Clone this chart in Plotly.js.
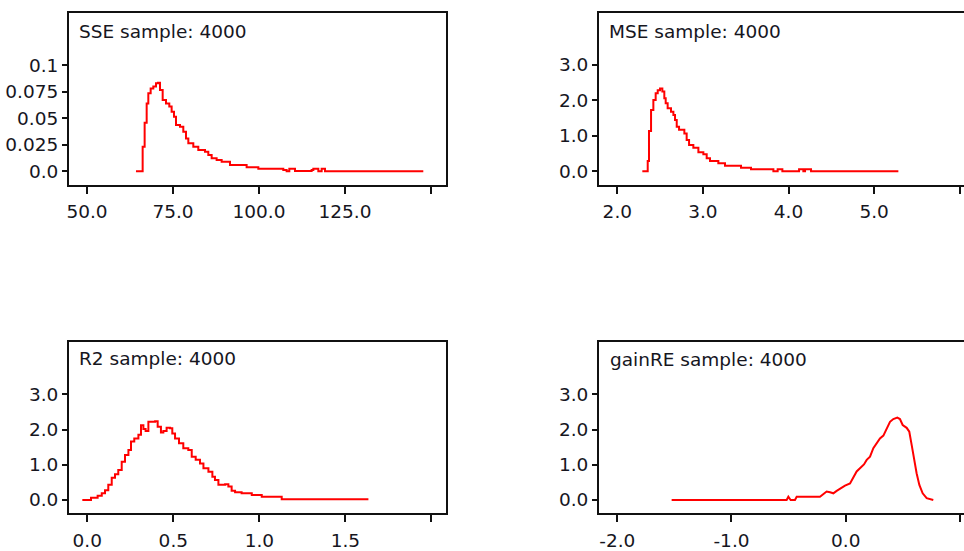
<!DOCTYPE html>
<html>
<head>
<meta charset="utf-8">
<script src="https://cdn.plot.ly/plotly-3.0.1.min.js"></script>
<style>
html, body { margin: 0; padding: 0; overflow: hidden; background: #fff; width: 964px; height: 551px; }
#chart { width: 990px; height: 551px; }
</style>
</head>
<body>
<div id="chart"></div>
<script>
// ---- Data ----
const panelTitles = ['SSE sample: 4000', 'MSE sample: 4000', 'R2 sample: 4000', 'gainRE sample: 4000'];

const sseX = [64.24, 66.18, 66.76, 67.35, 67.83, 68.51, 69.28, 70.06, 70.64, 71.22, 72.0, 72.97, 73.93, 74.61, 75.29, 75.87, 77.03, 78.0, 78.78, 79.46, 80.91, 82.36, 84.3, 85.27, 86.24, 87.69, 89.15, 91.57, 96.41, 99.81, 107.07, 108.04, 108.82, 110.47, 115.31, 115.8, 117.25, 118.22, 119.19, 147.77];
const sseY = [0, 0.0232, 0.0459, 0.064, 0.0736, 0.078, 0.080, 0.083, 0.0836, 0.0767, 0.0673, 0.064, 0.061, 0.0562, 0.0515, 0.0437, 0.042, 0.0374, 0.031, 0.0264, 0.0232, 0.0201, 0.0185, 0.0154, 0.0123, 0.0107, 0.009, 0.006, 0.0038, 0.0025, 0.0012, 0, 0.0025, 0.0003, 0.0012, 0.0025, 0, 0.0025, 0, 0];

const mseX = [2.292, 2.355, 2.370, 2.394, 2.421, 2.448, 2.472, 2.499, 2.526, 2.549, 2.565, 2.588, 2.627, 2.655, 2.674, 2.694, 2.721, 2.783, 2.810, 2.838, 2.888, 2.947, 3.005, 3.044, 3.083, 3.180, 3.258, 3.445, 3.562, 3.823, 3.873, 3.928, 4.123, 4.173, 4.193, 4.263, 5.283];
const mseY = [0, 0.291, 1.138, 1.73, 2.01, 2.20, 2.29, 2.34, 2.25, 2.06, 1.92, 1.78, 1.68, 1.59, 1.45, 1.26, 1.17, 1.07, 0.884, 0.743, 0.667, 0.536, 0.48, 0.367, 0.291, 0.226, 0.158, 0.102, 0.056, 0, 0.056, 0, 0.056, 0, 0.056, 0, 0];

const r2X = [-0.029, 0.0215, 0.060, 0.084, 0.103, 0.122, 0.142, 0.161, 0.180, 0.200, 0.219, 0.239, 0.254, 0.273, 0.297, 0.312, 0.326, 0.339, 0.355, 0.394, 0.409, 0.428, 0.442, 0.461, 0.481, 0.494, 0.510, 0.533, 0.558, 0.587, 0.607, 0.630, 0.655, 0.675, 0.704, 0.727, 0.742, 0.762, 0.801, 0.820, 0.839, 0.859, 0.897, 0.956, 1.014, 1.130, 1.634];
const r2Y = [0, 0.066, 0.12, 0.19, 0.28, 0.43, 0.63, 0.73, 0.85, 1.09, 1.28, 1.42, 1.66, 1.75, 1.85, 2.12, 2.02, 1.96, 2.22, 2.24, 2.08, 1.92, 1.96, 2.05, 2.04, 1.89, 1.75, 1.61, 1.47, 1.42, 1.23, 1.14, 1.04, 0.90, 0.80, 0.66, 0.57, 0.43, 0.45, 0.38, 0.26, 0.22, 0.19, 0.14, 0.094, 0.02, 0.02];

const gainX = [-1.524, -0.517, -0.502, -0.482, -0.444, -0.429, -0.225, -0.196, -0.167, -0.137, -0.108, -0.079, -0.050, -0.006, 0.038, 0.067, 0.096, 0.125, 0.160, 0.184, 0.213, 0.242, 0.271, 0.300, 0.330, 0.359, 0.388, 0.417, 0.452, 0.475, 0.499, 0.534, 0.557, 0.578, 0.598, 0.621, 0.645, 0.674, 0.709, 0.767];
const gainY = [0, 0, 0.094, 0, 0, 0.094, 0.094, 0.16, 0.24, 0.22, 0.19, 0.26, 0.33, 0.41, 0.47, 0.62, 0.81, 0.90, 1.01, 1.14, 1.23, 1.47, 1.61, 1.75, 1.83, 2.03, 2.22, 2.30, 2.34, 2.30, 2.13, 2.05, 1.94, 1.56, 1.18, 0.76, 0.43, 0.19, 0.05, 0];

// Tick values / labels
const sseXTicks = [50, 75, 100, 125, 150];
const sseXText = ['50.0', '75.0', '100.0', '125.0', ''];
const sseYTicks = [0, 0.025, 0.05, 0.075, 0.1];
const sseYText = ['0.0', '0.025', '0.05', '0.075', '0.1'];
const mseXTicks = [2, 3, 4, 5, 6];
const mseXText = ['2.0', '3.0', '4.0', '5.0', ''];
const r2XTicks = [0, 0.5, 1, 1.5, 2];
const r2XText = ['0.0', '0.5', '1.0', '1.5', ''];
const gainXTicks = [-2, -1, 0, 1];
const gainXText = ['-2.0', '-1.0', '0.0', ''];
const densYTicks = [0, 1, 2, 3];
const densYText = ['0.0', '1.0', '2.0', '3.0'];

// ---- Layout helpers ----
const W = 990, H = 551;
const FONT = 'DejaVu Sans, Verdana, sans-serif';
const TXT = '#16161e';
function px(a, b) { return [a / W, b / W]; }
function py(top, bottom) { return [(H - bottom) / H, (H - top) / H]; }

function xAxis(domain, range, tv, tt, anchor) {
  return {
    domain: domain, range: range, tickvals: tv, ticktext: tt, anchor: anchor,
    showline: true, mirror: true, linecolor: '#111', linewidth: 2,
    ticks: 'outside', ticklen: 7, tickwidth: 2, tickcolor: '#111',
    ticklabelstandoff: 2,
    showgrid: false, zeroline: false, fixedrange: true,
    tickfont: { family: FONT, size: 18.5, color: TXT }
  };
}
function yAxis(domain, range, tv, tt, anchor) {
  return {
    domain: domain, range: range, tickvals: tv, ticktext: tt, anchor: anchor,
    showline: true, mirror: true, linecolor: '#111', linewidth: 2,
    ticks: 'outside', ticklen: 5, tickwidth: 2, tickcolor: '#111',
    showgrid: false, zeroline: false, fixedrange: true,
    tickfont: { family: FONT, size: 18.5, color: TXT }
  };
}

const stepLine = { color: '#ff0000', width: 2, shape: 'hv' };
const smoothLine = { color: '#ff0000', width: 2, shape: 'linear' };
const traces = [
  { x: sseX, y: sseY, xaxis: 'x', yaxis: 'y', mode: 'lines', line: stepLine },
  { x: mseX, y: mseY, xaxis: 'x2', yaxis: 'y2', mode: 'lines', line: stepLine },
  { x: r2X, y: r2Y, xaxis: 'x3', yaxis: 'y3', mode: 'lines', line: stepLine },
  { x: gainX, y: gainY, xaxis: 'x4', yaxis: 'y4', mode: 'lines', line: smoothLine }
];

const topRow = py(13, 185), botRow = py(341.7, 513.3);
const leftCol = px(69, 446), rightCol = px(599, 976);

const layout = {
  width: W, height: H,
  margin: { l: 0, r: 0, t: 0, b: 0 },
  paper_bgcolor: '#fff', plot_bgcolor: '#fff',
  showlegend: false,
  xaxis: xAxis(leftCol, [44.77, 154.37], sseXTicks, sseXText, 'y'),
  yaxis: yAxis(topRow, [-0.01292, 0.1493], sseYTicks, sseYText, 'x'),
  xaxis2: xAxis(rightCol, [1.786, 6.19], mseXTicks, mseXText, 'y2'),
  yaxis2: yAxis(topRow, [-0.387, 4.468], densYTicks, densYText, 'x2'),
  xaxis3: xAxis(leftCol, [-0.1064, 2.085], r2XTicks, r2XText, 'y3'),
  yaxis3: yAxis(botRow, [-0.378, 4.497], densYTicks, densYText, 'x3'),
  xaxis4: xAxis(rightCol, [-2.160, 1.141], gainXTicks, gainXText, 'y4'),
  yaxis4: yAxis(botRow, [-0.378, 4.497], densYTicks, densYText, 'x4'),
  annotations: [
    { text: panelTitles[0], x: 77 / W, y: (H - 31.5) / H },
    { text: panelTitles[1], x: 607 / W, y: (H - 31.5) / H },
    { text: panelTitles[2], x: 77 / W, y: (H - 358.5) / H },
    { text: panelTitles[3], x: 608 / W, y: (H - 359.5) / H }
  ].map(a => Object.assign(a, {
    xref: 'paper', yref: 'paper', xanchor: 'left', yanchor: 'middle', showarrow: false,
    font: { family: FONT, size: 18.5, color: TXT }
  }))
};

Plotly.newPlot('chart', traces, layout, { displayModeBar: false, staticPlot: true });
</script>
</body>
</html>
